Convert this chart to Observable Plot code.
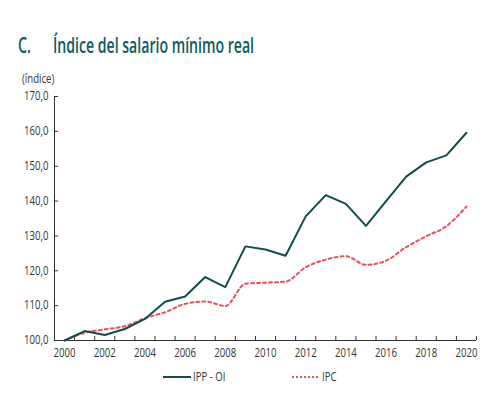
<!DOCTYPE html>
<html>
<head>
<meta charset="utf-8">
<script src="https://cdn.jsdelivr.net/npm/d3@7"></script>
<script src="https://cdn.jsdelivr.net/npm/@observablehq/plot@0.6"></script>
<style>
  html, body { margin: 0; padding: 0; background: #fff; }
  #wrap { position: relative; width: 488px; height: 393px; overflow: hidden;
    font-family: "Open Sans", sans-serif; }
  .cond { display: inline-block; transform-origin: 0 50%; white-space: nowrap; }
  #title { position: absolute; left: 18px; top: 29px; font-size: 22px; font-weight: 600; color: #0c5a5a; white-space: nowrap; }
  #title .c { position: absolute; left: 0; }
  #title .t { position: absolute; left: 35px; }
  #unit { position: absolute; left: 22px; top: 70px; font-size: 12px; color: #333; transform: scaleX(0.8); }
  #plot { position: absolute; left: 0; top: 0; }
  #legend { position: absolute; top: 368px; left: 0; font-size: 12px; color: #333; }
  .item { position: absolute; display: flex; align-items: center; white-space: nowrap; }
  .item svg { margin-right: 2px; }
</style>
</head>
<body>
<div id="wrap">
  <div id="plot"></div>
  <div id="title"><span class="cond c">C.</span><span class="cond t">Índice del salario mínimo real</span></div>
  <div id="unit" class="cond">(índice)</div>
  <div id="legend"></div>
</div>
<script>
const years = d3.range(2000, 2021);
const seriesNames = ["IPP - OI", "IPC"];
const ippOI = [100.0, 102.7, 101.6, 103.3, 106.2, 111.1, 112.6, 118.2, 115.3, 127.0, 126.1, 124.3, 135.6, 141.7, 139.2, 132.9, 140.0, 147.0, 151.1, 153.1, 159.6];
const ipc   = [100.0, 102.2, 103.2, 104.1, 106.4, 108.1, 110.5, 111.2, 109.9, 116.3, 116.6, 116.9, 121.0, 123.2, 124.2, 121.7, 122.9, 126.8, 129.9, 132.8, 138.4];
const yTicks = [100, 110, 120, 130, 140, 150, 160, 170];
const xLabelTicks = [2000, 2002, 2004, 2006, 2008, 2010, 2012, 2014, 2016, 2018, 2020];
const xTickMarks = d3.range(2000.5, 2021.5, 1);
const colors = ["#0e4d4b", "#e8505b"];

const ippData = years.map((y, i) => ({year: y, value: ippOI[i]}));
const ipcData = years.map((y, i) => ({year: y, value: ipc[i]}));
const fmt = d => d3.format(".1f")(d).replace(".", ",");

const chart = Plot.plot({
  width: 488,
  height: 393,
  marginTop: 96,
  marginBottom: 53,
  marginLeft: 54,
  marginRight: 12,
  style: {fontFamily: '"Open Sans", sans-serif', fontSize: "12px", color: "#333", background: "transparent"},
  x: {domain: [1999.5, 2020.5], label: null},
  y: {domain: [100, 170], label: null},
  marks: [
    Plot.axisX({ticks: xLabelTicks, tickFormat: d => String(d), tickSize: 0, tickPadding: 8, label: null}),
    Plot.axisX({ticks: xTickMarks, tickFormat: () => "", tickSize: -4, label: null, stroke: "#333"}),
    Plot.axisY({ticks: yTicks, tickFormat: fmt, tickSize: -4, tickPadding: 10, label: null, stroke: "#333"}),
    Plot.ruleY([100], {stroke: "#333", strokeWidth: 1}),
    Plot.ruleX([1999.5], {stroke: "#333", strokeWidth: 1}),
    Plot.line(ipcData, {x: "year", y: "value", stroke: colors[1], strokeWidth: 2, strokeDasharray: "3,3", curve: "monotone-x"}),
    Plot.line(ippData, {x: "year", y: "value", stroke: colors[0], strokeWidth: 2})
  ]
});
// condense tick label glyphs horizontally (anchor points unchanged)
chart.querySelectorAll("text").forEach(t => {
  const tr = t.getAttribute("transform") || "";
  t.setAttribute("transform", (tr + " scale(0.8,1)").trim());
});
document.getElementById("plot").appendChild(chart);

// fit condensed title to the reference widths
function fitWidth(el, w) {
  const nat = el.getBoundingClientRect().width;
  el.style.transform = `scaleX(${w / nat})`;
}
fitWidth(document.querySelector("#title .c"), 13);
fitWidth(document.querySelector("#title .t"), 201);

const legend = document.getElementById("legend");
const legendPos = [163, 292];
seriesNames.forEach((name, i) => {
  const div = document.createElement("div");
  div.className = "item";
  div.style.left = legendPos[i] + "px";
  const dash = i === 1 ? 'stroke-dasharray="2,2"' : '';
  div.innerHTML = `<svg width="28" height="6"><line x1="0" y1="3" x2="28" y2="3" stroke="${colors[i]}" stroke-width="2" ${dash}/></svg><span class="cond" style="transform: scaleX(0.8)">${name}</span>`;
  legend.appendChild(div);
});
</script>
</body>
</html>
